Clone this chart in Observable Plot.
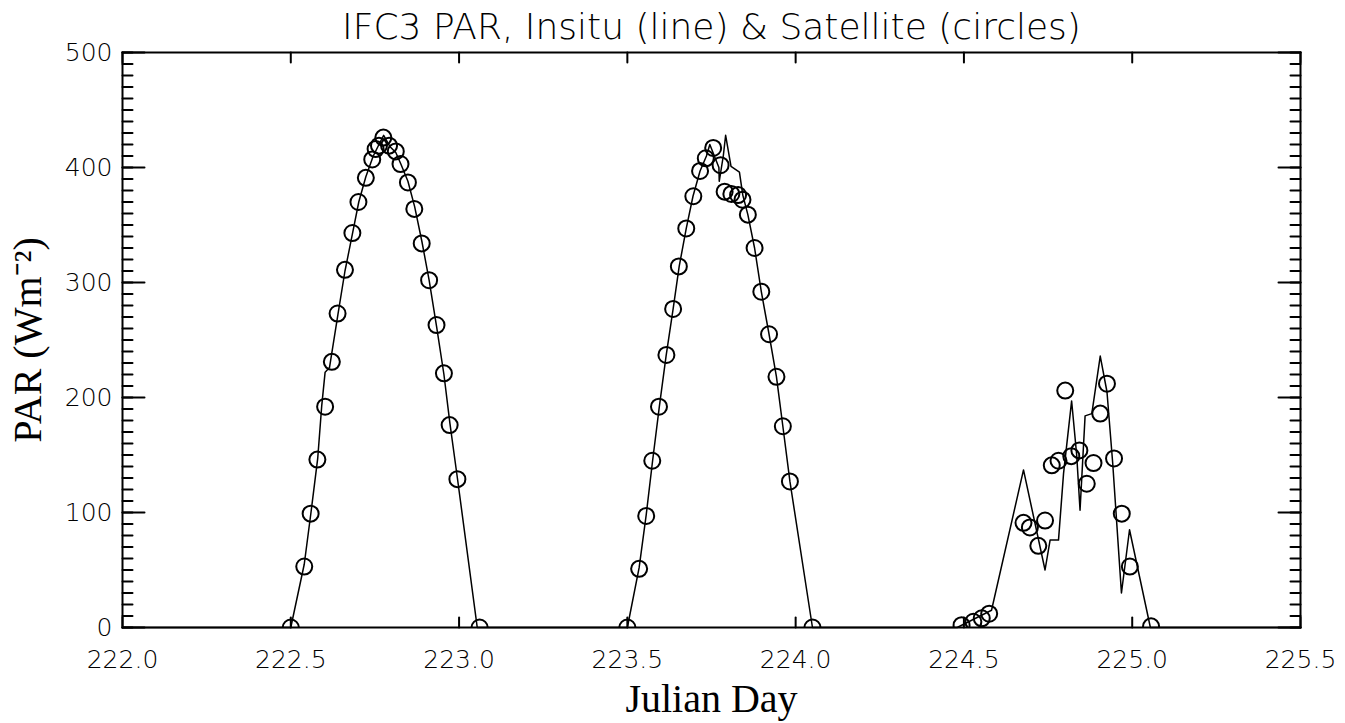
<!DOCTYPE html>
<html>
<head>
<meta charset="utf-8">
<script src="https://cdn.jsdelivr.net/npm/d3@7"></script>
<script src="https://cdn.jsdelivr.net/npm/@observablehq/plot@0.6"></script>
<style>
  html, body { margin: 0; padding: 0; background: #fff; }
  #chart > svg { display: block; }
</style>
</head>
<body>
<div id="chart"></div>
<script>
const chartTitle = "IFC3 PAR, Insitu (line) & Satellite (circles)";
const xLabel = "Julian Day";
const yLabel = "PAR (Wm⁻²)";
const xTicks = [222.0, 222.5, 223.0, 223.5, 224.0, 224.5, 225.0, 225.5];
const yTicks = [0, 100, 200, 300, 400, 500];

// Satellite (circles)
const satDay = [
  222.500, 222.540, 222.559, 222.579, 222.602, 222.622, 222.639, 222.661, 222.683, 222.701, 222.723, 222.742, 222.752, 222.762, 222.775, 222.792, 222.812, 222.826, 222.848, 222.867, 222.889, 222.911, 222.933, 222.955, 222.972, 222.995, 223.061,
  223.500, 223.535, 223.556, 223.574, 223.594, 223.616, 223.636, 223.653, 223.675, 223.696, 223.716, 223.733, 223.755, 223.777, 223.789, 223.809, 223.829, 223.842, 223.858, 223.878, 223.898, 223.921, 223.943, 223.962, 223.983, 224.050,
  224.493, 224.528, 224.553, 224.575, 224.677, 224.696, 224.721, 224.741, 224.761, 224.781, 224.801, 224.819, 224.843, 224.865, 224.885, 224.905, 224.925, 224.946, 224.969, 224.993, 225.056
];
const satPar = [
  0, 53, 99, 146, 192, 231, 273, 311, 343, 370, 391, 407, 416, 419, 426, 419, 414, 403, 387, 364, 334, 302, 263, 221, 176, 129, 0,
  0, 51, 97, 145, 192, 237, 277, 314, 347, 375, 397, 408, 417, 402, 379, 377, 376, 372, 359, 330, 292, 255, 218, 175, 127, 0,
  2, 5, 8, 12, 91, 87, 71, 93, 141, 145, 206, 149, 154, 125, 143, 186, 212, 147, 99, 53, 1
];

// In situ (line)
const insituDay = [
  222.0, 222.5, 222.540, 222.560, 222.580, 222.592, 222.602, 222.615, 222.640, 222.661, 222.683, 222.702, 222.723, 222.745, 222.762, 222.776, 222.795, 222.812, 222.827, 222.848, 222.868, 222.890, 222.911, 222.933, 222.955, 222.973, 222.995, 223.054,
  223.500, 223.535, 223.556, 223.575, 223.595, 223.615, 223.636, 223.654, 223.675, 223.695, 223.716, 223.735, 223.745, 223.772, 223.773, 223.785, 223.792, 223.808, 223.833, 223.843, 223.858, 223.878, 223.898, 223.921, 223.943, 223.962, 223.983, 224.050,
  224.480, 224.582, 224.677, 224.741, 224.756, 224.781, 224.796, 224.820, 224.835, 224.845, 224.860, 224.880, 224.905, 224.925, 224.942, 224.968, 224.992, 225.054, 225.500
];
const insituPar = [
  0, 0, 55, 100, 147, 193, 222, 226, 272, 310, 342, 370, 392, 410, 420, 428, 418, 413, 403, 388, 366, 335, 302, 262, 220, 177, 130, 0,
  0, 52, 98, 145, 192, 236, 277, 314, 347, 375, 397, 410, 420, 400, 388, 410, 428, 401, 396, 376, 359, 330, 292, 255, 218, 175, 127, 0,
  0, 15, 137, 50, 76, 76, 134, 197, 150, 102, 184, 186, 236, 205, 143, 30, 85, 0, 0
];

const sat = satDay.map((d, i) => ({day: d, par: satPar[i]}));
const insitu = insituDay.map((d, i) => ({day: d, par: insituPar[i]}));
const yMinor = d3.ticks(0, 500, 50);

const W = 1345, H = 723, mL = 122, mR = 45, mT = 52, mB = 96;
const tickShape = {draw(context, l) { context.moveTo(0, 0); context.lineTo(0, -l); }};
const tickStyle = {shape: tickShape, anchor: "start", stroke: "black", strokeWidth: 2};

const sans = "'DejaVu Sans', sans-serif";
const serif = "'Liberation Serif', 'Times New Roman', serif";

const chart = Plot.plot({
  width: W,
  height: H,
  marginLeft: mL,
  marginRight: mR,
  marginTop: mT,
  marginBottom: mB,
  style: {background: "#fff", fontFamily: sans},
  x: {domain: [222, 225.5]},
  y: {domain: [0, 500]},
  marks: [
    Plot.line(insitu, {x: "day", y: "par", stroke: "black", strokeWidth: 1.5}),
    Plot.dot(sat, {x: "day", y: "par", r: 8, stroke: "black", strokeWidth: 2, fill: "none", clip: true}),
    Plot.frame({stroke: "black", strokeWidth: 2}),
    // inward y ticks: minor and major, both sides
    Plot.vector(yMinor, {y: d => d, frameAnchor: "left", rotate: 90, length: 10, ...tickStyle}),
    Plot.vector(yMinor, {y: d => d, frameAnchor: "right", rotate: -90, length: 10, ...tickStyle}),
    Plot.vector(yTicks, {y: d => d, frameAnchor: "left", rotate: 90, length: 22, ...tickStyle}),
    Plot.vector(yTicks, {y: d => d, frameAnchor: "right", rotate: -90, length: 22, ...tickStyle}),
    // inward x ticks: top (pointing down) and bottom (pointing up)
    Plot.vector(xTicks, {x: d => d, frameAnchor: "top", rotate: 180, length: 10, ...tickStyle}),
    Plot.vector(xTicks, {x: d => d, frameAnchor: "bottom", rotate: 0, length: 10, ...tickStyle}),
    // y tick labels
    Plot.axisY(yTicks, {anchor: "left", tickSize: 0, tickPadding: 10, fontSize: 25, fontWeight: 200, label: null, tickFormat: d => String(d)}),
    // x tick labels
    Plot.axisX(xTicks, {anchor: "bottom", tickSize: 0, tickPadding: 23, fontSize: 25, fontWeight: 200, label: null, tickFormat: d3.format(".1f")}),
    // title and axis labels
    Plot.text([chartTitle], {frameAnchor: "top", lineAnchor: "bottom", dy: -14, fontSize: 36, fontWeight: 200, fontFamily: sans}),
    Plot.text([yLabel], {frameAnchor: "left", textAnchor: "middle", rotate: -90, dx: -94, fontSize: 40, fontFamily: serif}),
    Plot.text([xLabel], {frameAnchor: "bottom", lineAnchor: "bottom", dy: 84, fontSize: 40, fontFamily: serif})
  ]
});
document.getElementById("chart").appendChild(chart);
</script>
</body>
</html>
